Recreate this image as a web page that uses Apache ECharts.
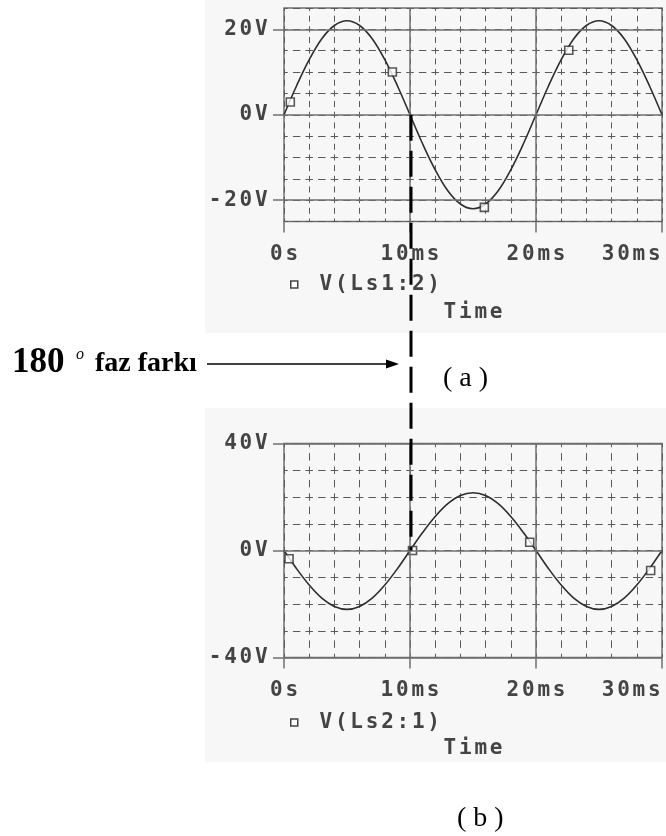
<!DOCTYPE html>
<html>
<head>
<meta charset="utf-8">
<script src="https://cdn.jsdelivr.net/npm/echarts@6/dist/echarts.min.js"></script>
<style>
  html, body { margin: 0; padding: 0; background: #ffffff; }
  #chart { width: 666px; height: 836px; }
</style>
</head>
<body>
<div id="chart"></div>
<script>
// ---- data ------------------------------------------------------------
// sample times (ms)
const timeMs = [0,1,2,3,4,5,6,7,8,9,10,11,12,13,14,15,16,17,18,19,20,21,22,23,24,25,26,27,28,29,30];
// V(Ls1:2) in volts
const vLs1 = [0,6.8,12.9,17.8,20.9,22.0,20.9,17.8,12.9,6.8,0,-6.8,-12.9,-17.8,-20.9,-22.0,-20.9,-17.8,-12.9,-6.8,0,6.8,12.9,17.8,20.9,22.0,20.9,17.8,12.9,6.8,0];
// V(Ls2:1) in volts
const vLs2 = [0,-6.8,-12.9,-17.8,-20.9,-22.0,-20.9,-17.8,-12.9,-6.8,0,6.7,12.7,17.5,20.6,21.6,20.6,17.5,12.7,6.7,0,-6.8,-12.9,-17.8,-20.9,-22.0,-20.9,-17.8,-12.9,-6.8,0];
// trace marker points [ms, V]
const markersLs1 = [[0.5,3.0],[8.6,10.0],[15.9,-21.7],[22.6,15.1]];
const markersLs2 = [[0.4,-3.1],[10.2,0.0],[19.5,3.1],[29.1,-7.5]];
// axis ticks and labels
const timeTicks = [0,10,20,30];
const timeTickLabels = ['0s','10ms','20ms','30ms'];
const timeMajor = [10,20];
const voltTicksTop = [-20,0,20];
const voltTickLabelsTop = ['-20V','0V','20V'];
const voltTicksBottom = [-40,0,40];
const voltTickLabelsBottom = ['-40V','0V','40V'];
const seriesNames = ['V(Ls1:2)','V(Ls2:1)'];
const axisTitle = 'Time';
// phase marker: both traces cross zero here
const phaseTimeMs = 10;
const phaseText = ['180','o',' faz farkı'];
const captions = ['( a )','( b )'];

// ---- styling ---------------------------------------------------------
const MONO = "'DejaVu Sans Mono', monospace";
const SERIF = "'Liberation Serif', 'Times New Roman', serif";
const TXT = '#444444';
const FRAME = '#707070';
const GRIDC = '#5a5a5a';
const TRACE = '#2e2e2e';
const CELL = 15.4;

// each character sits in a fixed-width cell, like the plotter's bitmap font
function cells(str) {
  return str.split('').map(ch => '{c|' + ch + '}').join('');
}
const cellRich = {
  c: { width: CELL, align: 'center', fontFamily: MONO, fontWeight: 'bold', fontSize: 21, color: TXT },
  g: { width: CELL, fontFamily: MONO, fontSize: 21 }
};
function labelFrom(values, labels) {
  return v => {
    const i = values.indexOf(v);
    return i < 0 ? '' : cells(labels[i]);
  };
}

const grids = [
  { left: 284, top: 8, width: 378, height: 213.5 },
  { left: 284, top: 443.5, width: 378, height: 214 }
];

// axis carrying the dashed grid only
function timeGridAxis(gi) {
  const dash = gi === 0 ? [6, 4.675] : [7.5, 5.875];
  return {
    type: 'value', gridIndex: gi, position: 'bottom', min: 0, max: 30, interval: 2,
    axisLine: { show: false, onZero: false }, axisTick: { show: false }, axisLabel: { show: false },
    splitLine: { show: true, lineStyle: { color: GRIDC, width: 1, type: dash, dashOffset: dash[0] / 2 } }
  };
}
// axis carrying ticks, labels and title
function timeTickAxis(gi) {
  return {
    type: 'value', gridIndex: gi, position: 'bottom', min: 0, max: 30,
    name: cells(axisTitle), nameLocation: 'middle', nameGap: 81,
    nameTextStyle: { rich: cellRich },
    axisLine: { show: false, onZero: false },
    axisTick: { show: true, customValues: timeTicks, length: 11, lineStyle: { color: FRAME, width: 1.5 } },
    axisLabel: {
      customValues: timeTicks, margin: 23, alignMaxLabel: 'right',
      formatter: labelFrom(timeTicks, timeTickLabels), rich: cellRich
    },
    splitLine: { show: false }
  };
}
function voltGridAxis(gi, lim, step) {
  return {
    type: 'value', gridIndex: gi, position: 'left', min: -lim, max: lim, interval: step,
    axisLine: { show: false, onZero: false }, axisTick: { show: false }, axisLabel: { show: false },
    splitLine: { show: true, lineStyle: { color: GRIDC, width: 1, type: [7.5, 5.1], dashOffset: 3.75 } }
  };
}
function voltTickAxis(gi, lim, ticks, labels) {
  return {
    type: 'value', gridIndex: gi, position: 'left', min: -lim, max: lim,
    axisLine: { show: false, onZero: false },
    axisTick: { show: true, customValues: ticks, length: 11, lineStyle: { color: FRAME, width: 1.5 } },
    axisLabel: { customValues: ticks, margin: 15, formatter: labelFrom(ticks, labels), rich: cellRich },
    splitLine: { show: false }
  };
}
function solidLines(hValues) {
  return {
    silent: true, symbol: ['none', 'none'], label: { show: false },
    lineStyle: { color: FRAME, type: 'solid', width: 1.5 },
    emphasis: { disabled: true },
    data: hValues.map(v => ({ yAxis: v })).concat(timeMajor.map(t => ({ xAxis: t })))
  };
}
function trace(ai, name, values, hValues) {
  return {
    type: 'line', name: name, xAxisIndex: ai, yAxisIndex: ai,
    data: timeMs.map((t, i) => [t, values[i]]),
    smooth: 0.35, symbol: 'none', animation: false,
    lineStyle: { color: TRACE, width: 1.6 },
    markLine: solidLines(hValues), z: 3
  };
}
function marks(ai, name, pts) {
  return {
    type: 'scatter', name: name, xAxisIndex: ai, yAxisIndex: ai,
    data: pts, symbol: 'rect', symbolSize: 8, animation: false,
    itemStyle: { color: '#ffffff', borderColor: TRACE, borderWidth: 1.6 }, z: 4
  };
}
function legendFor(name, top) {
  return {
    data: [{ name: name, icon: 'rect', itemStyle: { color: '#ffffff', borderColor: '#444', borderWidth: 1.5 } }],
    left: 290, top: top, padding: 0, itemWidth: 7, itemHeight: 7, selectedMode: false,
    formatter: n => '{g| }' + cells(n),
    textStyle: { rich: cellRich }
  };
}

const chart = echarts.init(document.getElementById('chart'), null, { renderer: 'canvas', width: 666, height: 836 });

const baseGraphics = [
  { type: 'rect', z: -10, shape: { x: 205, y: 0, width: 461, height: 333 }, style: { fill: '#f7f7f7' } },
  { type: 'rect', z: -10, shape: { x: 205, y: 408, width: 461, height: 354 }, style: { fill: '#f7f7f7' } },
  { type: 'text', x: 12, y: 362.5, style: { text: phaseText[0], font: 'bold 35px ' + SERIF, fill: '#000', verticalAlign: 'middle' } },
  { type: 'text', x: 76, y: 355, style: { text: phaseText[1], font: 'italic 16px ' + SERIF, fill: '#000', verticalAlign: 'middle' } },
  { type: 'text', x: 88, y: 363.5, style: { text: phaseText[2], font: 'bold 28px ' + SERIF, fill: '#000', verticalAlign: 'middle' } },
  { type: 'line', shape: { x1: 207, y1: 364, x2: 388, y2: 364 }, style: { stroke: '#000', lineWidth: 1.5 } },
  { type: 'polygon', shape: { points: [[386, 359.5], [399, 364], [386, 368.5]] }, style: { fill: '#000' } },
  { type: 'text', x: 443, y: 379, style: { text: captions[0], font: '28px ' + SERIF, fill: '#000', verticalAlign: 'middle' } },
  { type: 'text', x: 457, y: 819, style: { text: captions[1], font: '28px ' + SERIF, fill: '#000', verticalAlign: 'middle' } }
];

chart.setOption({
  animation: false,
  backgroundColor: '#ffffff',
  grid: grids.map(g => Object.assign({ show: true, borderColor: FRAME, borderWidth: 1.5, backgroundColor: 'transparent', containLabel: false }, g)),
  xAxis: [timeGridAxis(0), timeTickAxis(0), timeGridAxis(1), timeTickAxis(1)],
  yAxis: [
    voltGridAxis(0, 25, 5), voltTickAxis(0, 25, voltTicksTop, voltTickLabelsTop),
    voltGridAxis(1, 40, 10), voltTickAxis(1, 40, voltTicksBottom, voltTickLabelsBottom)
  ],
  legend: [legendFor(seriesNames[0], 274), legendFor(seriesNames[1], 712)],
  series: [
    trace(0, seriesNames[0], vLs1, voltTicksTop),
    marks(0, seriesNames[0], markersLs1),
    trace(2, seriesNames[1], vLs2, voltTicksBottom),
    marks(2, seriesNames[1], markersLs2)
  ],
  graphic: baseGraphics
});

// dashed connector between the zero crossings of the two traces
const pTop = chart.convertToPixel({ xAxisIndex: 0, yAxisIndex: 0 }, [phaseTimeMs, 0]);
const pBot = chart.convertToPixel({ xAxisIndex: 2, yAxisIndex: 2 }, [phaseTimeMs, 0]);
chart.setOption({
  graphic: baseGraphics.concat([{
    type: 'line', z: 100,
    shape: { x1: pTop[0] + 1, y1: pTop[1], x2: pBot[0] + 1, y2: pBot[1] },
    style: { stroke: '#000', lineWidth: 3, lineDash: [26, 10] }
  }])
});
</script>
</body>
</html>
